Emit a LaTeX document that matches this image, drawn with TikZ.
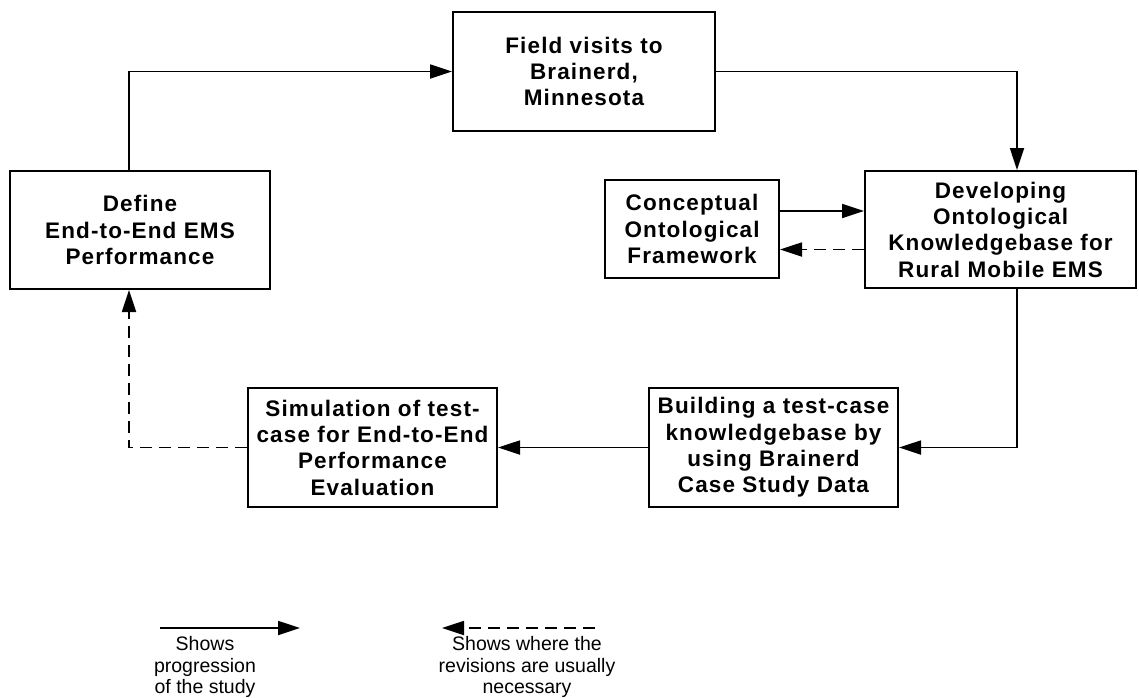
\documentclass[tikz,border=0pt]{standalone}
\usepackage{fontspec}
\setmainfont{Liberation Sans}
\newfontfamily\boxfont[LetterSpace=5]{Liberation Sans Bold}
\usetikzlibrary{arrows.meta}
\tikzset{
  stage/.style={draw, line width=2pt, align=center, inner sep=0pt,
    font=\boxfont\fontsize{22.5}{26.3}\selectfont},
  conn/.style={line width=1.8pt, -{Triangle[length=22pt,width=14pt]}},
  rev/.style={conn, dash pattern=on 12pt off 7pt},
  legtext/.style={align=center, inner sep=0pt, font=\fontsize{19.5}{21.5}\selectfont}
}
\begin{document}
\begin{tikzpicture}[x=1pt,y=-1pt]
\useasboundingbox (0,0) rectangle (1139,697);
\node[stage, minimum width=260pt, minimum height=118pt] (define) at (140,230)
  {Define\\End-to-End EMS\\Performance};
\node[stage, minimum width=262pt, minimum height=119pt] (field) at (584,71.5)
  {Field visits to\\Brainerd,\\Minnesota};
\node[stage, minimum width=174pt, minimum height=98pt] (conc) at (692,229)
  {Conceptual\\Ontological\\Framework};
\node[stage, minimum width=271pt, minimum height=117pt] (dev) at (1000.5,229.5)
  {Developing\\Ontological\\Knowledgebase for\\Rural Mobile EMS};
\node[stage, minimum width=249pt, minimum height=119pt] (build) at (773.5,447.5)
  {Building a test-case\\knowledgebase by\\using Brainerd\\Case Study Data};
\node[stage, minimum width=249pt, minimum height=119pt] (sim) at (372.5,447.5)
  {Simulation of test-\\case for End-to-End\\Performance\\Evaluation};

\draw[conn] ([xshift=-11pt]define.north) |- (field.west);
\draw[conn] (field.east) -| ([xshift=16.5pt]dev.north);
\draw[conn] ([yshift=18pt]conc.east) -- ([yshift=18pt]conc.east -| dev.west);
\draw[rev] ([yshift=-20pt]dev.west) -- ([yshift=-20pt]dev.west -| conc.east);
\draw[conn] ([xshift=16.5pt]dev.south) |- (build.east);
\draw[conn] (build.west) -- (sim.east);
\draw[rev] (sim.west) -| ([xshift=-11pt]define.south);

\coordinate (s1) at (160,628);
\coordinate (s2) at (300,628);
\coordinate (d1) at (595,628);
\coordinate (d2) at (442,628);
\draw[conn] (s1) -- (s2);
\draw[rev] (d1) -- (d2);
\node[legtext] (legA) at (205,667) {Shows\\progression\\of the study};
\node[legtext] (legB) at (527,667) {Shows where the\\revisions are usually\\necessary};
\end{tikzpicture}
\end{document}
